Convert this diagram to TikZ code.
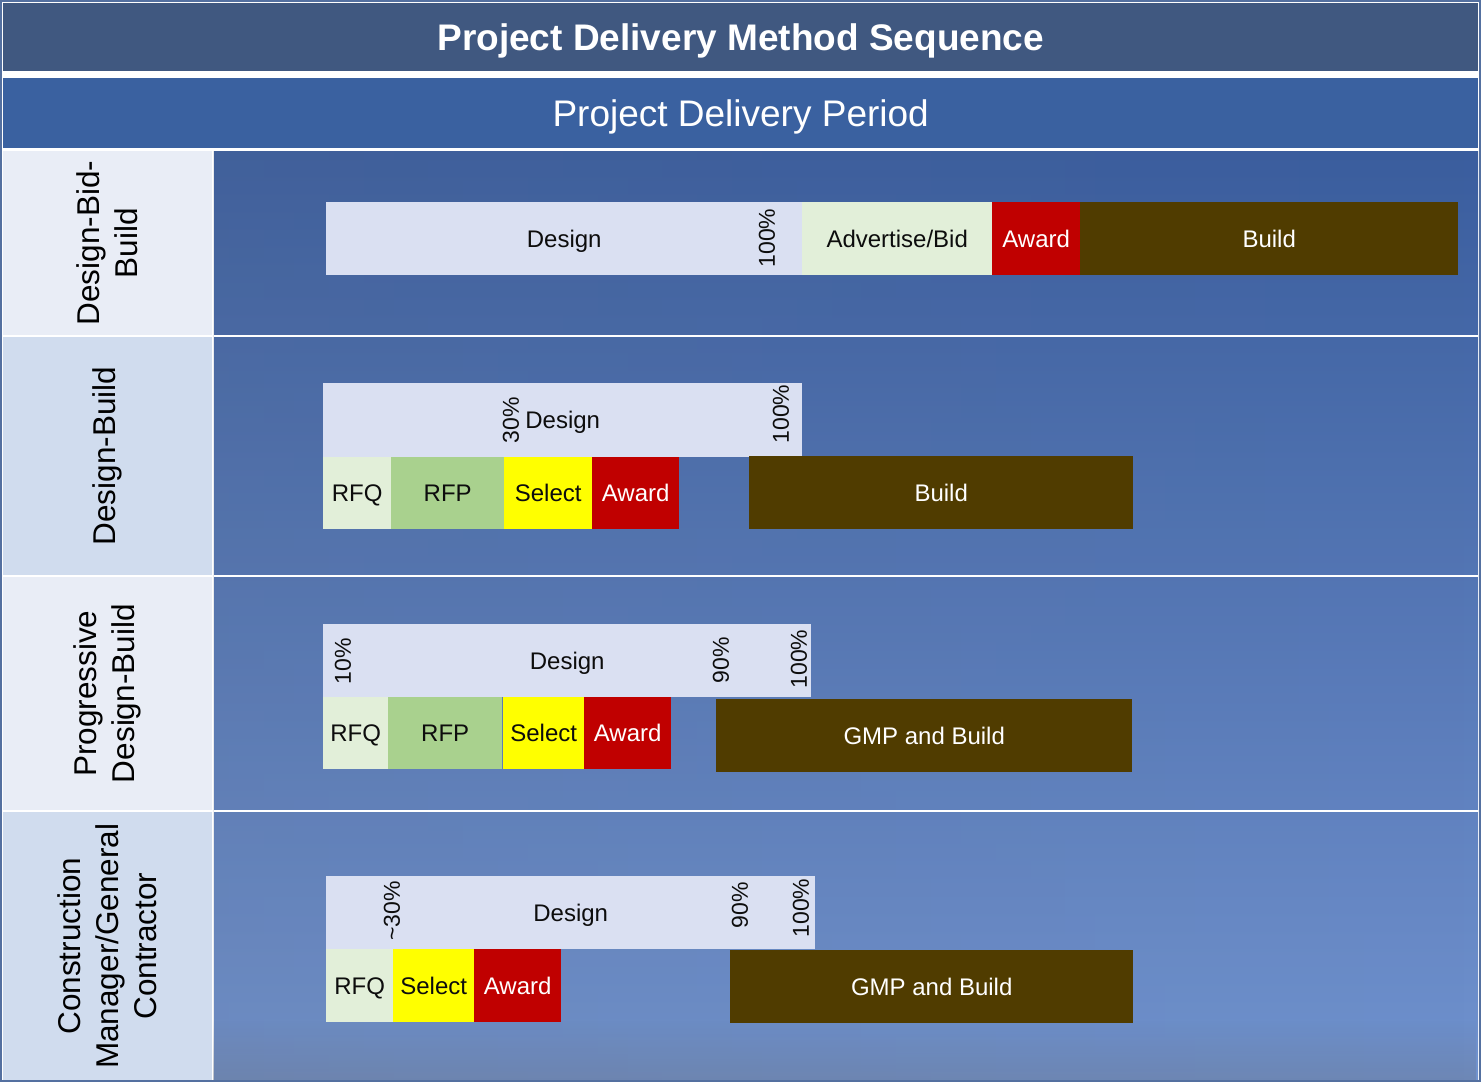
\documentclass[tikz,border=0pt]{standalone}
\usepackage{fontspec}
\setmainfont{Liberation Sans}
\usetikzlibrary{fadings}
\definecolor{titlebg}{RGB}{64,88,128}
\definecolor{subbg}{RGB}{58,97,160}
\definecolor{framec}{RGB}{84,112,160}
\definecolor{cellA}{RGB}{233,237,246}
\definecolor{cellB}{RGB}{208,220,238}
\definecolor{bgtop}{RGB}{58,93,158}
\definecolor{bgmid}{RGB}{72,120,200}
\definecolor{bgbot}{RGB}{112,146,206}
\definecolor{bggray}{RGB}{105,115,135}
\definecolor{designc}{RGB}{218,224,242}
\definecolor{rfqc}{RGB}{226,239,217}
\definecolor{rfpc}{RGB}{169,209,142}
\definecolor{selc}{RGB}{255,255,0}
\definecolor{awdc}{RGB}{192,0,0}
\definecolor{bldc}{RGB}{80,60,0}
\definecolor{txt}{RGB}{13,13,13}
\tikzset{
  bar/.style={draw=none, inner sep=0pt, anchor=north west, text=txt,
    text height=17.2pt, text depth=0pt,
    font=\fontsize{24}{28}\selectfont},
  pct/.style={rotate=90, inner sep=0pt, text=txt, font=\fontsize{23}{27}\selectfont},
  rowlabel/.style={rotate=90, align=center, inner sep=0pt, text=black,
    font=\fontsize{31.5}{38}\selectfont},
  cell/.style={draw=none, inner sep=0pt, anchor=north west}
}
\begin{document}
\begin{tikzpicture}[x=1pt,y=-1pt]
\useasboundingbox (0,0) rectangle (1481,1082);
\fill[white] (0,0) rectangle (1481,1082);
% header bars
\node[cell, fill=titlebg, minimum width=1475, minimum height=68, text=white,
  text height=26.5pt, text depth=0pt,
  font=\fontsize{37}{44}\selectfont\bfseries] (title) at (3,3) {Project Delivery Method Sequence};
\node[cell, fill=subbg, minimum width=1475, minimum height=70, text=white,
  text height=26.5pt, text depth=0pt,
  font=\fontsize{37}{44}\selectfont] (period) at (3,78) {Project Delivery Period};
% right background
\shade[top color=bgtop, middle color=bgmid, bottom color=bgbot] (214,151) rectangle (1478,1080);
\fill[bggray, path fading=east, fill opacity=0.15] (214,151) rectangle (1478,1080);
\fill[bggray, path fading=north, fill opacity=0.35] (214,1020) rectangle (1478,1080);
% row separators
\foreach \yy in {335,575,810} \fill[white] (214,\yy) rectangle (1478,\yy+2);
% left cells
\node[cell, fill=cellA, minimum width=209, minimum height=184] (c1) at (3,151) {};
\node[cell, fill=cellB, minimum width=209, minimum height=238] (c2) at (3,337) {};
\node[cell, fill=cellA, minimum width=209, minimum height=233] (c3) at (3,577) {};
\node[cell, fill=cellB, minimum width=209, minimum height=268] (c4) at (3,812) {};
\node[rowlabel] (l1) at (c1.center) {Design-Bid-\\Build};
\node[rowlabel] (l2) at (c2.center) {Design-Build};
\node[rowlabel] (l3) at (c3.center) {Progressive\\Design-Build};
\node[rowlabel] (l4) at (c4.center) {Construction\\Manager/General\\Contractor};
% frame
\draw[framec, line width=1.5pt] (1,1) rectangle (1480,1081);

% Row 1: Design-Bid-Build
\node[bar, fill=designc, minimum width=476, minimum height=73] (d1) at (326,202) {Design};
\node[bar, fill=rfqc, minimum width=190, minimum height=73] (adv1) at (802,202) {Advertise/Bid};
\node[bar, fill=awdc, text=white, minimum width=88, minimum height=73] (aw1) at (992,202) {Award};
\node[bar, fill=bldc, text=white, minimum width=378, minimum height=73] (b1) at (1080,202) {Build};
\node[pct] (p1a) at (767,238) {100\%};

% Row 2: Design-Build
\node[bar, fill=designc, minimum width=479, minimum height=74] (d2) at (323,383) {Design};
\node[bar, fill=rfqc, minimum width=68, minimum height=72] (q2) at (323,457) {RFQ};
\node[bar, fill=rfpc, minimum width=113, minimum height=72] (r2) at (391,457) {RFP};
\node[bar, fill=selc, minimum width=88, minimum height=72] (s2) at (504,457) {Select};
\node[bar, fill=awdc, text=white, minimum width=87, minimum height=72] (a2) at (592,457) {Award};
\node[bar, fill=bldc, text=white, minimum width=384, minimum height=73] (b2) at (749,456) {Build};
\node[pct] (p2a) at (511,420) {30\%};
\node[pct] (p2b) at (781,414) {100\%};

% Row 3: Progressive Design-Build
\node[bar, fill=designc, minimum width=488, minimum height=73] (d3) at (323,624) {Design};
\node[bar, fill=rfqc, minimum width=65, minimum height=72] (q3) at (323,697) {RFQ};
\node[bar, fill=rfpc, minimum width=114, minimum height=72] (r3) at (388,697) {RFP};
\node[bar, fill=selc, minimum width=81, minimum height=72] (s3) at (503,697) {Select};
\node[bar, fill=awdc, text=white, minimum width=87, minimum height=72] (a3) at (584,697) {Award};
\node[bar, fill=bldc, text=white, minimum width=416, minimum height=73] (b3) at (716,699) {GMP and Build};
\node[pct] (p3a) at (343,661) {10\%};
\node[pct] (p3b) at (721,660) {90\%};
\node[pct] (p3c) at (799,659) {100\%};

% Row 4: CM/GC
\node[bar, fill=designc, minimum width=489, minimum height=73] (d4) at (326,876) {Design};
\node[bar, fill=rfqc, minimum width=67, minimum height=73] (q4) at (326,949) {RFQ};
\node[bar, fill=selc, minimum width=81, minimum height=73] (s4) at (393,949) {Select};
\node[bar, fill=awdc, text=white, minimum width=87, minimum height=73] (a4) at (474,949) {Award};
\node[bar, fill=bldc, text=white, minimum width=403, minimum height=73] (b4) at (730,950) {GMP and Build};
\node[pct] (p4a) at (392,911) {\textasciitilde30\%};
\node[pct] (p4b) at (740,905) {90\%};
\node[pct] (p4c) at (801,908) {100\%};
\end{tikzpicture}
\end{document}
